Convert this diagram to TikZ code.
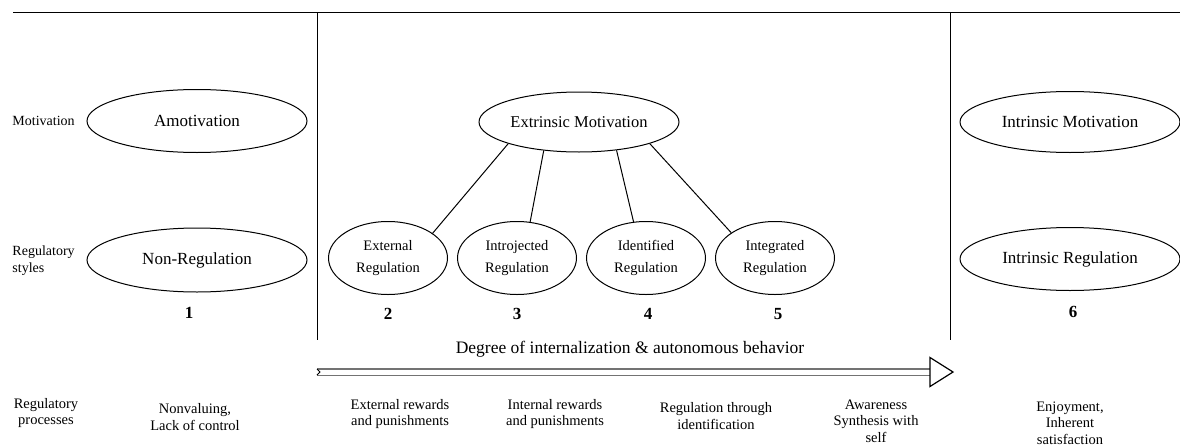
\documentclass[tikz,border=0pt]{standalone}
\usepackage{fontspec}
\setmainfont{Liberation Serif}
\usetikzlibrary{shapes.geometric, positioning, calc}

\begin{document}
\begin{tikzpicture}[
    x=1pt, y=-1pt,
    line width=1pt,
    ovalbox/.style={ellipse, draw, inner sep=0pt, align=center,
                font=\fontsize{17}{20}\selectfont},
    bigoval/.style={ovalbox, minimum width=220pt, minimum height=62pt},
    smalloval/.style={ovalbox, minimum width=119pt, minimum height=73pt,
                font=\fontsize{14.5}{22}\selectfont},
    rowlabel/.style={inner sep=0pt, align=left, anchor=west,
                font=\fontsize{14}{17}\selectfont},
    proctext/.style={inner sep=0pt, align=center,
                font=\fontsize{14.5}{16.5}\selectfont},
    numlabel/.style={inner sep=0pt, font=\fontsize{17}{20}\selectfont\bfseries}
]
    \useasboundingbox (0,0) rectangle (1180,447);

    % Frame
    \draw (13,12) -- (1180,12);
    \draw (317,12) -- (317,340);
    \draw (950,12) -- (950,340);

    % Row labels
    \node[rowlabel] (lblmot) at (12,121) {Motivation};
    \node[rowlabel] (lblstyle) at (12,261) {Regulatory\\styles};
    \node[proctext] (lblproc) at (46,413) {Regulatory\\processes};

    % Amotivation
    \node[bigoval, minimum height=63pt] (amot) at (197,121) {Amotivation};
    \node[bigoval, minimum height=64pt] (nonreg) at (197,260) {Non-Regulation};
    \node[numlabel] (num1) at (189,313) {1};
    \node[proctext] (proc1) at (195,417) {Nonvaluing,\\Lack of control};

    % Extrinsic motivation
    \node[ovalbox, minimum width=200pt, minimum height=60pt,
          font=\fontsize{16.5}{20}\selectfont] (extr) at (579,122) {Extrinsic Motivation};
    \node[smalloval] (extreg) at (388,258) {External\\Regulation};
    \node[smalloval, right=9pt of extreg] (introj) {Introjected\\Regulation};
    \node[smalloval, right=9pt of introj] (ident) {Identified\\Regulation};
    \node[smalloval, right=9pt of ident] (integ) {Integrated\\Regulation};

    \draw (extr.197) -- (extreg.29);
    \draw (extr.219) -- (introj.70);
    \draw (extr.323) -- (ident.109);
    \draw (extr.343) -- (integ.150);

    \node[numlabel] (num2) at (388,314) {2};
    \node[numlabel] (num3) at (517,314) {3};
    \node[numlabel] (num4) at (648,314) {4};
    \node[numlabel] (num5) at (778,314) {5};

    % Internalization arrow
    \node[inner sep=0pt, font=\fontsize{17.5}{20}\selectfont] (degree) at (630,349)
        {Degree of internalization \& autonomous behavior};
    \coordinate (arrstart) at (317,372);
    \coordinate (arrbase) at (930,372);
    \coordinate (arrtip) at (953,372);
    \draw[draw=black!55, line width=1.6pt, double=white, double distance=5pt]
        (arrstart) -- (arrbase);
    \draw ($(arrstart)+(0,-3)$) -- ($(arrstart)+(3,0)$) -- ($(arrstart)+(0,3)$);
    \draw[fill=white, line width=1.2pt, line join=miter]
        ($(arrbase)+(0,-14.5)$) -- (arrtip) -- ($(arrbase)+(0,14.5)$) -- cycle;

    \node[proctext] (proc2) at (400,414) {External rewards\\and punishments};
    \node[proctext] (proc3) at (555,414) {Internal rewards\\and punishments};
    \node[proctext] (proc4) at (716,416) {Regulation through\\identification};
    \node[proctext] (proc5) at (876,421) {Awareness\\Synthesis with\\self};

    % Intrinsic motivation
    \node[bigoval, minimum height=61pt] (intrmot) at (1070,122) {Intrinsic Motivation};
    \node[bigoval, minimum height=63pt] (intrreg) at (1070,259) {Intrinsic Regulation};
    \node[numlabel] (num6) at (1073,312) {6};
    \node[proctext] (proc6) at (1070,423) {Enjoyment,\\Inherent\\satisfaction};
\end{tikzpicture}
\end{document}
